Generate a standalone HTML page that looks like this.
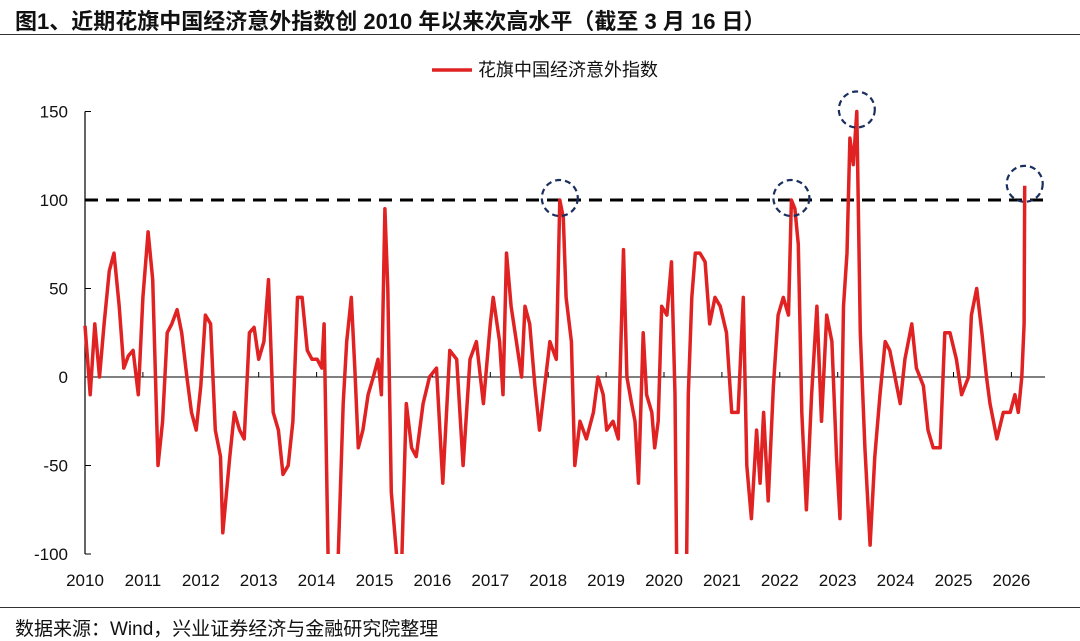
<!DOCTYPE html>
<html><head><meta charset="utf-8">
<style>
html,body{margin:0;padding:0;background:#fff;}
body{width:1080px;height:637px;position:relative;overflow:hidden;font-family:"Liberation Sans","Noto Sans CJK SC",sans-serif;}
#title{position:absolute;left:15px;top:4px;font-size:22px;font-weight:bold;color:#111;white-space:nowrap;}
#top-rule{position:absolute;left:0;top:34px;width:1080px;height:1px;background:#333;}
#bottom-rule{position:absolute;left:0;top:607px;width:1080px;height:1px;background:#333;}
#source{position:absolute;left:15px;top:614px;font-size:19px;color:#111;white-space:nowrap;}
svg{position:absolute;left:0;top:0;}
</style></head>
<body>
<div id="title">图1、近期花旗中国经济意外指数创 2010 年以来次高水平（截至 3 月 16 日）</div>
<div id="top-rule"></div>
<svg id="chart" width="1080" height="637"></svg>
<div id="bottom-rule"></div>
<div id="source">数据来源：Wind，兴业证券经济与金融研究院整理</div>
<script>
const years = [2010,2011,2012,2013,2014,2015,2016,2017,2018,2019,2020,2021,2022,2023,2024,2025,2026];
const yTicks = [150,100,50,0,-50,-100];
const threshold = 100;
const dates = [2010.00,2010.09,2010.17,2010.25,2010.33,2010.42,2010.50,2010.59,2010.67,2010.75,2010.83,2010.92,
2011.00,2011.09,2011.17,2011.26,2011.34,2011.42,2011.50,2011.59,2011.67,2011.76,2011.84,2011.92,
2012.00,2012.08,2012.17,2012.25,2012.34,2012.38,2012.50,2012.58,2012.67,2012.75,2012.84,2012.92,
2013.00,2013.09,2013.17,2013.25,2013.34,2013.42,2013.51,2013.59,2013.67,2013.75,2013.84,2013.92,
2014.01,2014.09,2014.13,2014.20,2014.37,2014.46,2014.52,2014.60,2014.66,2014.72,2014.80,2014.89,2014.98,
2015.06,2015.12,2015.18,2015.23,2015.29,2015.38,2015.47,2015.55,2015.64,2015.72,2015.84,2015.95,
2016.07,2016.18,2016.30,2016.42,2016.53,2016.65,2016.76,2016.88,
2017.00,2017.05,2017.16,2017.22,2017.28,2017.36,2017.45,2017.54,2017.60,2017.68,2017.77,2017.85,2017.94,
2018.03,2018.14,2018.20,2018.26,2018.31,2018.40,2018.46,2018.55,2018.66,2018.78,2018.86,2018.95,
2019.01,2019.12,2019.21,2019.30,2019.36,2019.44,2019.50,2019.56,2019.64,2019.70,2019.79,2019.84,2019.90,2019.96,
2020.05,2020.13,2020.19,2020.22,2020.39,2020.42,2020.48,2020.54,2020.62,2020.71,2020.79,2020.88,2020.97,
2021.08,2021.17,2021.28,2021.37,2021.43,2021.51,2021.60,2021.66,2021.72,2021.80,2021.89,2021.97,
2022.06,2022.15,2022.20,2022.26,2022.32,2022.38,2022.46,2022.55,2022.64,2022.72,2022.81,2022.90,2022.98,
2023.04,2023.10,2023.16,2023.21,2023.27,2023.33,2023.39,2023.47,2023.56,2023.64,2023.73,2023.82,2023.90,2023.99,
2024.08,2024.16,2024.28,2024.36,2024.48,2024.56,2024.65,2024.77,2024.85,2024.94,
2025.05,2025.14,2025.26,2025.31,2025.40,2025.49,2025.57,2025.63,2025.75,2025.86,2025.98,
2026.06,2026.12,2026.18,2026.22,2026.23];
const values = [29,-10,30,0,30,60,70,40,5,12,15,-10,
45,82,55,-50,-25,25,30,38,25,0,-20,-30,
-5,35,30,-30,-45,-88,-45,-20,-30,-35,25,28,
10,20,55,-20,-30,-55,-50,-25,45,45,15,10,
10,5,30,-105,-105,-15,20,45,5,-40,-30,-10,0,
10,-10,95,50,-65,-100,-105,-15,-40,-45,-15,0,
5,-60,15,10,-50,10,20,-15,
30,45,20,-10,70,40,20,0,40,30,-5,-30,-5,
20,10,100,90,45,20,-50,-25,-35,-20,0,-10,
-30,-25,-35,72,0,-15,-25,-60,25,-10,-20,-40,-25,40,
35,65,-10,-105,-105,-10,45,70,70,65,30,45,40,
25,-20,-20,45,-50,-80,-30,-60,-20,-70,-5,35,
45,35,100,95,75,-20,-75,-10,40,-25,35,20,-45,
-80,40,70,135,120,150,25,-40,-95,-45,-10,20,15,0,
-15,10,30,5,-5,-30,-40,-40,25,25,
10,-10,0,35,50,25,0,-15,-35,-20,-20,
-10,-20,0,30,108];
const highlightDates = [2018.20,2022.20,2023.33,2026.23];
const highlightValues = [100,100,150,108];

const NS='http://www.w3.org/2000/svg';
const svg=document.getElementById('chart');
const X0=85, XW=57.9, Y0=377, YS=1.77;
function xs(t){return X0+(t-2010)*XW;}
function ys(v){return Y0-v*YS;}
function mk(tag,attrs,parent){const e=document.createElementNS(NS,tag);for(const k in attrs)e.setAttribute(k,attrs[k]);(parent||svg).appendChild(e);return e;}

const defs=mk('defs',{});
const cp=mk('clipPath',{id:'plotclip'},defs);
mk('rect',{x:80,y:ys(160),width:980,height:ys(-100)-ys(160)},cp);

const yAxis=mk('line',{x1:X0,y1:ys(150),x2:X0,y2:ys(-100),stroke:'#000','stroke-width':1.2});


yTicks.forEach(v=>{
  const tk=mk('line',{x1:X0,y1:ys(v),x2:X0+6,y2:ys(v),stroke:'#000','stroke-width':1});
  
  
  const t=mk('text',{x:68,y:ys(v)+6,'text-anchor':'end','font-size':17,fill:'#111'});
  t.textContent=v;
  
  
});
const zl=mk('line',{x1:X0,y1:ys(0),x2:1045,y2:ys(0),stroke:'#000','stroke-width':1});


years.forEach(yr=>{
  const tk=mk('line',{x1:xs(yr),y1:ys(0)-5,x2:xs(yr),y2:ys(0),stroke:'#000','stroke-width':1});
  
  
  const t=mk('text',{x:xs(yr),y:586,'text-anchor':'middle','font-size':17,fill:'#111'});
  t.textContent=yr;
  
  
});
const th=mk('line',{x1:X0,y1:ys(threshold),x2:1045,y2:ys(threshold),stroke:'#000','stroke-width':3,'stroke-dasharray':'13,8'});


let d='';
dates.forEach((t,i)=>{d+=(i?'L':'M')+xs(t).toFixed(1)+','+ys(values[i]).toFixed(1);});
const line=mk('path',{d:d,fill:'none',stroke:'#e02222','stroke-width':3.5,'stroke-linejoin':'round','clip-path':'url(#plotclip)'});


highlightDates.forEach((t,i)=>{
  const c=mk('circle',{cx:xs(t),cy:ys(highlightValues[i])-2,r:18,fill:'none',stroke:'#1a2f5e','stroke-width':2.2,'stroke-dasharray':'6,4'});
  
  
});
const lg=mk('g',{});


mk('line',{x1:432,y1:70,x2:472,y2:70,stroke:'#e02222','stroke-width':3.5},lg);
const lt=mk('text',{x:478,y:76,'font-size':18,fill:'#111'},lg);
lt.textContent='花旗中国经济意外指数';
</script>
</body></html>
